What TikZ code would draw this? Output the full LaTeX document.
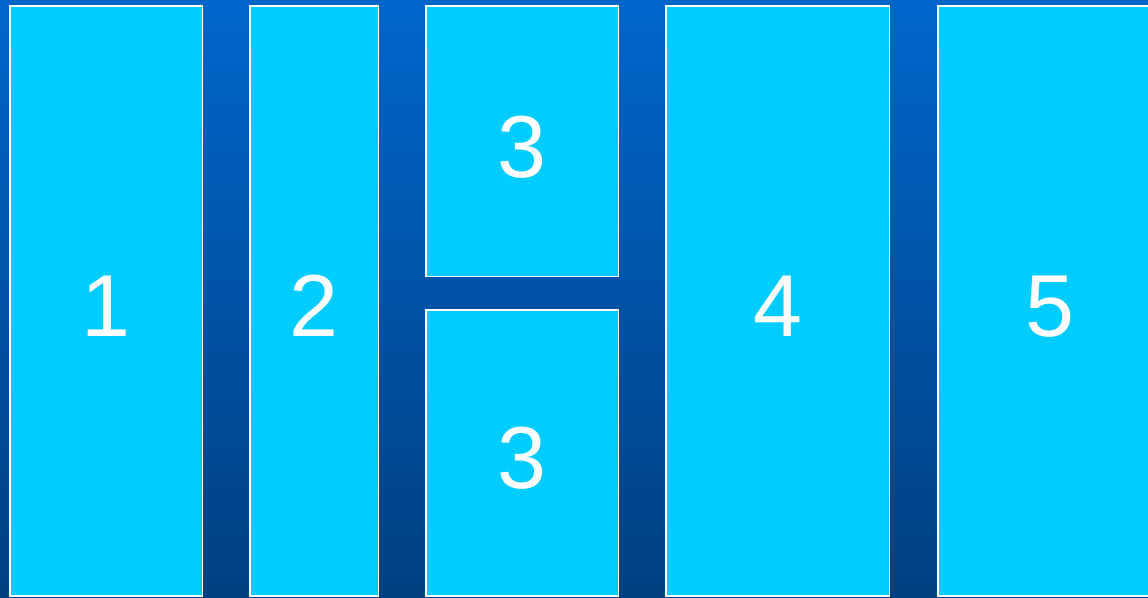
\documentclass[tikz,border=0pt]{standalone}
\usepackage{fontspec}
\setmainfont{Liberation Sans}
\usetikzlibrary{positioning}
\definecolor{skyfill}{HTML}{00CCFF}
\definecolor{bgtop}{HTML}{0066CC}
\definecolor{bgbottom}{HTML}{003F80}

\begin{document}
\begin{tikzpicture}[
  x=1pt, y=-1pt,
  panel/.style={draw=white, line width=1.5pt, fill=skyfill, text=white,
                font=\fontsize{88}{88}\selectfont, anchor=north west,
                inner sep=0pt, text height=72pt, text depth=0pt}
]
\useasboundingbox (0,0) rectangle (1148,597);
\clip (0,0) rectangle (1148,597);
\shade[top color=bgtop, bottom color=bgbottom] (0,0) rectangle (1148,597);

\node[panel, minimum width=192.5pt, minimum height=590pt] (one) at (9,5) {1};
\node[panel, minimum width=128.5pt, minimum height=590pt] (two) at (249,5) {2};
\node[panel, minimum width=192.5pt, minimum height=270.5pt] (threetop) at (425,5) {3};
\node[panel, minimum width=192.5pt, minimum height=286pt] (threebot) at (425,309) {3};
\node[panel, minimum width=223.5pt, minimum height=590pt] (four) at (665,5) {4};
\node[panel, minimum width=224pt, minimum height=590pt] (five) at (937,5) {5};
\end{tikzpicture}
\end{document}
